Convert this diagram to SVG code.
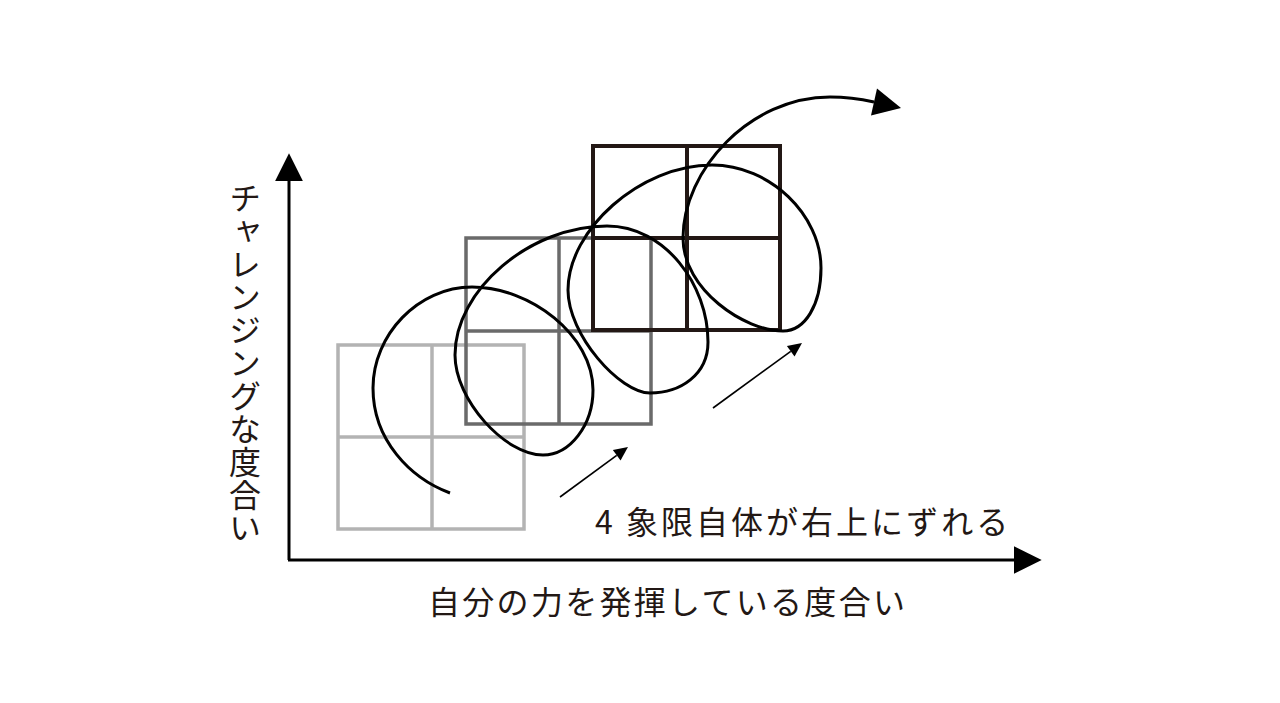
<svg xmlns="http://www.w3.org/2000/svg" width="1280" height="703" viewBox="0 0 1280 703">
<style>
.txt{font-family:"Noto Sans CJK JP","Noto Sans CJK SC",sans-serif;font-size:32px;fill:#231815;letter-spacing:2.3px}
.grid{fill:none;stroke-width:3.5}
.g1{stroke:#b3b3b3}
.g2{stroke:#6a6a6a}
.g3{stroke:#231815;stroke-width:4}
.axis{stroke:#000;stroke-width:3;fill:none}
.spiral{stroke:#000;stroke-width:3;fill:none}
.small{stroke:#000;stroke-width:1.6;fill:none}
</style>
<defs>
<marker id="big" markerUnits="userSpaceOnUse" markerWidth="30" markerHeight="30" refX="0" refY="0" viewBox="0 -13 26 26" orient="auto" overflow="visible">
<path d="M0,-12 L24,0 L0,12 Z" fill="#000"/>
</marker>
<marker id="sm" markerUnits="userSpaceOnUse" markerWidth="16" markerHeight="16" refX="0" refY="0" viewBox="0 -7 16 14" orient="auto" overflow="visible">
<path d="M0,-6.5 L14,0 L0,6.5 Z" fill="#000"/>
</marker>
</defs>
<rect width="1280" height="703" fill="#fff"/>
<g id="grid-light" class="grid g1">
<rect x="338" y="345" width="186" height="184"/>
<line x1="432" y1="345" x2="432" y2="529"/>
<line x1="338" y1="437" x2="524" y2="437"/>
</g>
<g id="grid-mid" class="grid g2">
<rect x="466" y="238" width="185" height="186"/>
<line x1="559" y1="238" x2="559" y2="424"/>
<line x1="466" y1="331" x2="651" y2="331"/>
</g>
<g id="grid-dark" class="grid g3">
<rect x="593" y="146" width="187" height="184"/>
<line x1="687" y1="146" x2="687" y2="330"/>
<line x1="593" y1="238" x2="780" y2="238"/>
</g>
<g id="connectors">
<line class="axis" x1="289" y1="560" x2="289" y2="181" marker-end="url(#big)"/>
<line class="axis" x1="288" y1="560" x2="1014" y2="560" marker-end="url(#big)"/>
<path class="spiral" marker-end="url(#big)" d="M450,493 C410,478 373,440 373,388 C373,335 418,287 472,287 C530,287 593,335 593,390 C593,425 570,455 543,455 C505,455 455,400 455,355 C455,290 530,226 607,226 C665,226 708,285 708,342 C708,375 680,393 650,393 C620,393 568,335 568,290 C568,230 640,165 712,165 C770,165 821,215 821,268 C821,305 805,331 783,331 C745,331 683,290 683,238 C683,170 750,97 830,97 C850,97 865,100 874,102"/>
<line class="small" x1="560" y1="497" x2="616.7" y2="455.3" marker-end="url(#sm)"/>
<line class="small" x1="713" y1="408" x2="790.7" y2="351.3" marker-end="url(#sm)"/>
</g>
<g id="label-y"><text class="txt" x="245" y="182" writing-mode="vertical-rl" style="letter-spacing:1px">チャレンジングな度合い</text></g>
<g id="label-x"><text class="txt" x="428" y="614">自分の力を発揮している度合い</text></g>
<g id="label-shift"><text class="txt" x="595" y="534" style="letter-spacing:3px">4 象限自体が右上にずれる</text></g>
</svg>
